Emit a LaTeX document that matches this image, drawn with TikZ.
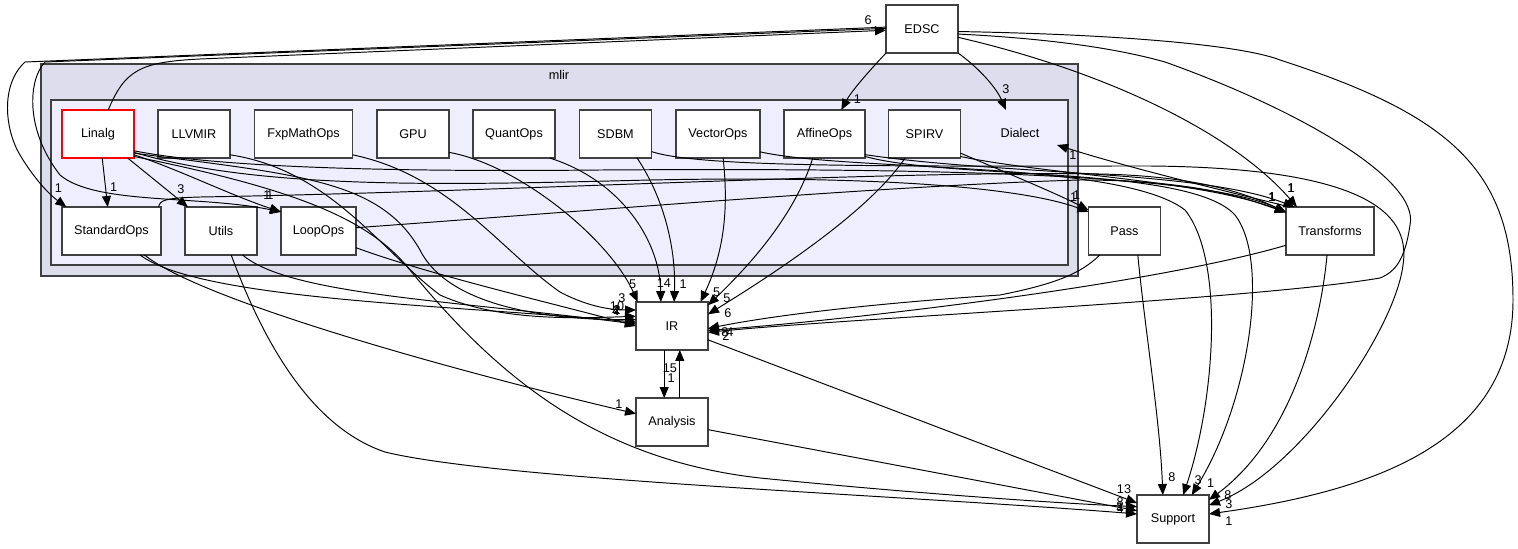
\documentclass[tikz,border=0pt]{standalone}
\usepackage{fontspec}
\setmainfont{Liberation Sans}
\usetikzlibrary{arrows.meta}

\definecolor{clusterfill}{HTML}{DDDDEE}
\definecolor{innerfill}{HTML}{EEEEFF}
\definecolor{boxgray}{HTML}{404040}

\begin{document}
\begin{tikzpicture}[
  x=0.02cm, y=-0.02cm,
  font=\fontsize{7.2}{8.6}\selectfont,
  dirbox/.style={rectangle, draw=boxgray, line width=0.7pt, fill=white, minimum width=1.44cm, minimum height=0.96cm, inner sep=0pt, outer sep=0pt},
  cluster/.style={draw=boxgray, line width=0.9pt},
  dep/.style={-{Triangle[length=2.2mm, width=1.8mm]}, line width=0.55pt},
  num/.style={inner sep=0pt},
]
  \useasboundingbox (0,0) rectangle (1518,548);

  % clusters
  \draw[cluster, fill=clusterfill] (41,64) rectangle (1078,276);
  \draw[cluster, fill=innerfill] (51,100) rectangle (1068,265);
  \node (mlir) at (559,75) {mlir};
  \node (dialect) at (1020,133) {Dialect};
  \coordinate (dialectN) at (1006,110);
  \coordinate (dialectE) at (1057,145);

  \node[dirbox] (EDSC) at (922,29) {EDSC};
  \node[dirbox, draw=red] (Linalg) at (98,134) {Linalg};
  \node[dirbox] (LLVMIR) at (194,134) {LLVMIR};
  \node[dirbox, minimum width=1.96cm] (FxpMathOps) at (303.5,134) {FxpMathOps};
  \node[dirbox] (GPU) at (413,134) {GPU};
  \node[dirbox, minimum width=1.64cm] (QuantOps) at (514,134) {QuantOps};
  \node[dirbox] (SDBM) at (615.5,134) {SDBM};
  \node[dirbox, minimum width=1.68cm] (VectorOps) at (718,134) {VectorOps};
  \node[dirbox, minimum width=1.62cm] (AffineOps) at (824.5,134) {AffineOps};
  \node[dirbox] (SPIRV) at (924.5,134) {SPIRV};
  \node[dirbox, minimum width=1.98cm] (StandardOps) at (111.5,231) {StandardOps};
  \node[dirbox] (Utils) at (221,231) {Utils};
  \node[dirbox, minimum width=1.5cm] (LoopOps) at (318.5,231) {LoopOps};
  \node[dirbox] (Pass) at (1124.5,231) {Pass};
  \node[dirbox, minimum width=1.76cm] (Transforms) at (1330,231) {Transforms};
  \node[dirbox] (IR) at (672,326) {IR};
  \node[dirbox] (Analysis) at (672,422) {Analysis};
  \node[dirbox] (Support) at (1173,519) {Support};

  % EDSC
  \draw[dep] (EDSC.south west) .. controls (872,68) and (852,90) .. (AffineOps.55) node[num, shift={(16,-11)}] {1};
  \draw[dep] (EDSC.south east) .. controls (975,65) and (995,85) .. (dialectN) node[num, shift={(0,-21)}] {3};
  \draw[dep] (EDSC.347) .. controls (1100,70) and (1230,130) .. (Transforms.144) node[num, shift={(-6,-19)}] {1};
  \draw[dep] (EDSC.352) .. controls (1080,40) and (1140,55) .. (1165,62) .. controls (1300,110) and (1420,180) .. (1410,225) .. controls (1405,260) and (1395,272) .. (1380,278) .. controls (1250,300) and (850,318) .. (IR.350) node[num, shift={(22,0)}] {4};
  \draw[dep] (EDSC.356) .. controls (1150,35) and (1250,48) .. (1280,60) .. controls (1450,115) and (1513,170) .. (1513,300) .. controls (1513,440) and (1380,490) .. (Support.8) node[num, shift={(20,7)}] {1};
  \draw[dep] (EDSC.177) -- (25,62) .. controls (0,85) and (5,130) .. (20,155) .. controls (35,180) and (50,195) .. (StandardOps.152) node[num, shift={(-8,-19)}] {1};
  \draw[dep] (EDSC.179) -- (45,62) .. controls (28,80) and (25,130) .. (60,175) .. controls (95,205) and (200,195) .. (LoopOps.153) node[num, shift={(-14,-17)}] {1};

  % Linalg
  \draw[dep] (Linalg.67) .. controls (125,70) and (140,62) .. (200,59) -- (EDSC.182) node[num, shift={(-18,-10)}] {6};
  \draw[dep] (Linalg.280) -- (StandardOps.99) node[num, shift={(6,-20)}] {1};
  \draw[dep] (Linalg.321) -- (Utils.144) node[num, shift={(-7,-18)}] {3};
  \draw[dep] (Linalg.330) .. controls (180,170) and (230,195) .. (LoopOps.153) node[num, shift={(-11,-17)}] {1};
  \draw[dep] (Linalg.332) .. controls (300,175) and (380,180) .. (420,250) .. controls (450,310) and (560,320) .. (IR.170) node[num, shift={(-19,-14)}] {10};
  \draw[dep] (Linalg.335) .. controls (220,168) and (400,172) .. (600,170) .. controls (900,168) and (1200,172) .. (Transforms.157) node[num, shift={(-14,-15)}] {1};
  \draw[dep] (Linalg.333) .. controls (260,190) and (450,185) .. (650,180) .. controls (900,175) and (1030,190) .. (Pass.152) node[num, shift={(-15,-15)}] {1};
  \draw[dep] (Linalg.328) .. controls (300,190) and (370,220) .. (410,270) .. controls (500,380) and (600,460) .. (760,478) .. controls (900,492) and (1050,503) .. (Support.161) node[num, shift={(-17,-4)}] {8};

  % other dialects
  \draw[dep] (LLVMIR.330) .. controls (330,170) and (380,250) .. (440,295) .. controls (500,322) and (580,318) .. (IR.165) node[num, shift={(-20,-5)}] {4};
  \draw[dep] (FxpMathOps.337) .. controls (450,175) and (500,250) .. (560,292) .. controls (590,308) and (615,310) .. (IR.156) node[num, shift={(-14,-12)}] {3};
  \draw[dep] (GPU.333) .. controls (520,165) and (610,240) .. (IR.145) node[num, shift={(-5,-18)}] {5};
  \draw[dep] (QuantOps.326) .. controls (620,180) and (660,240) .. (IR.115) node[num, shift={(3,-19)}] {14};
  \draw[dep] (SDBM.312) .. controls (665,200) and (676,250) .. (IR.85) node[num, shift={(9,-18)}] {1};
  \draw[dep] (SDBM.334) .. controls (700,168) and (900,166) .. (1150,166) .. controls (1380,168) and (1410,220) .. (1403,265) .. controls (1395,330) and (1300,470) .. (Support.21) node[num, shift={(20,-1)}] {3};
  \draw[dep] (VectorOps.282) .. controls (730,220) and (720,260) .. (IR.40) node[num, shift={(16,-10)}] {5};
  \draw[dep] (VectorOps.337) .. controls (850,172) and (1120,160) .. (1185,210) .. controls (1225,260) and (1215,400) .. (Support.67) node[num, shift={(15,-15)}] {3};
  \draw[dep] (AffineOps.244) .. controls (795,215) and (750,265) .. (IR.30) node[num, shift={(19,-7)}] {5};
  \draw[dep] (AffineOps.333) .. controls (1000,175) and (1200,170) .. (Transforms.146) node[num, shift={(-3,-19)}] {1};
  \draw[dep] (AffineOps.331) .. controls (950,180) and (1190,165) .. (1235,215) .. controls (1270,260) and (1250,400) .. (Support.52) node[num, shift={(19,-12)}] {1};
  \draw[dep] (SPIRV.231) .. controls (870,210) and (780,270) .. (IR.18) node[num, shift={(20,-1)}] {6};
  \draw[dep] (SPIRV.332) .. controls (1000,170) and (1060,195) .. (Pass.150) node[num, shift={(-12,-15)}] {1};
  \draw[dep] (SPIRV.328) .. controls (1050,175) and (1200,180) .. (Transforms.157) node[num, shift={(-14,-15)}] {1};

  % bottom row
  \draw[dep] (StandardOps.320) .. controls (200,300) and (450,305) .. (IR.174) node[num, shift={(-19,-12)}] {2};
  \draw[dep] (StandardOps.324) .. controls (200,300) and (450,370) .. (Analysis.167) node[num, shift={(-17,-10)}] {1};
  \draw[dep] (StandardOps.27) .. controls (160,200) and (165,198) .. (200,197) .. controls (500,192) and (900,170) .. (1100,174) .. controls (1200,176) and (1250,195) .. (Transforms.157) node[num, shift={(-14,-15)}] {1};
  \draw[dep] (Utils.312) .. controls (290,295) and (450,300) .. (IR.177) node[num, shift={(-20,-13)}] {4};
  \draw[dep] (Utils.293) .. controls (270,360) and (320,430) .. (385,452) .. controls (500,480) and (900,495) .. (Support.172) node[num, shift={(-17,-6)}] {4};
  \draw[dep] (LoopOps.336) .. controls (430,275) and (560,305) .. (IR.180) node[num, shift={(-19,-16)}] {2};
  \draw[dep] (LoopOps.5) .. controls (600,210) and (900,185) .. (1080,180) .. controls (1200,180) and (1250,200) .. (Transforms.157) node[num, shift={(-14,-15)}] {1};

  % IR, Analysis, Pass, Transforms
  \draw[dep] (IR.252) -- (Analysis.108) node[num, shift={(7,-20)}] {1};
  \draw[dep] (Analysis.72) -- (IR.288) node[num, shift={(-10,18)}] {15};
  \draw[dep] (IR.339) -- (Support.156) node[num, shift={(-13,-14)}] {13};
  \draw[dep] (Analysis.348) -- (Support.167) node[num, shift={(-17,-4)}] {1};
  \draw[dep] (Pass.224) .. controls (1080,275) and (1050,285) .. (1000,295) .. controls (850,305) and (760,318) .. (IR.356) node[num, shift={(18,8)}] {2};
  \draw[dep] (Pass.299) .. controls (1145,330) and (1160,420) .. (Support.113) node[num, shift={(9,-18)}] {8};
  \draw[dep] (Transforms.198) .. controls (1150,285) and (850,320) .. (IR.353) node[num, shift={(17,2)}] {8};
  \draw[dep] (Transforms.149) .. controls (1200,185) and (1120,165) .. (dialectE) node[num, shift={(16,10)}] {1};
  \draw[dep] (Transforms.263) .. controls (1320,330) and (1290,440) .. (Support.28) node[num, shift={(19,-5)}] {8};
\end{tikzpicture}
\end{document}
